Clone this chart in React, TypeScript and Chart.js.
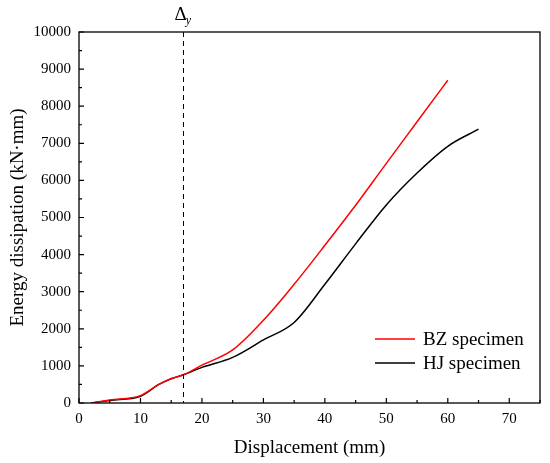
import { useEffect, useRef } from 'react';
import { Chart, registerables } from 'chart.js';

Chart.register(...registerables);

const bzDisp = [2, 5, 10, 13, 15, 17, 20, 25, 30, 35, 40, 45, 50, 55, 60];
const bzEnergy = [0, 80, 200, 500, 660, 760, 1020, 1430, 2230, 3200, 4250, 5330, 6460, 7580, 8700];

const hjDisp = [2, 5, 10, 13, 15, 17, 20, 25, 30, 35, 40, 45, 50, 55, 60, 65];
const hjEnergy = [0, 70, 180, 500, 650, 760, 960, 1230, 1700, 2170, 3200, 4290, 5340, 6200, 6920, 7380];

const xTickVals = [0, 10, 20, 30, 40, 50, 60, 70];
const yieldDisp = 17;

const FONT = '"Liberation Serif", "Times New Roman", serif';

const framePlugin = {
    id: 'frame',
    afterDraw(chart: any) {
        const { ctx, chartArea: a, scales } = chart;
        const xs = scales.x;
        const ys = scales.y;
        ctx.save();
        ctx.strokeStyle = '#000';
        ctx.lineWidth = 1.3;
        ctx.strokeRect(a.left, a.top, a.right - a.left, a.bottom - a.top);

        // inward ticks, major + minor
        ctx.lineWidth = 1.2;
        ctx.beginPath();
        for (let v = 0; v <= 75; v += 5) {
            const px = xs.getPixelForValue(v);
            const len = v % 10 === 0 ? 5 : 3;
            ctx.moveTo(px, a.bottom);
            ctx.lineTo(px, a.bottom - len);
        }
        for (let v = 0; v <= 10000; v += 500) {
            const py = ys.getPixelForValue(v);
            const len = v % 1000 === 0 ? 5 : 3;
            ctx.moveTo(a.left, py);
            ctx.lineTo(a.left + len, py);
        }
        ctx.stroke();

        // yield displacement line
        const dx = xs.getPixelForValue(yieldDisp);
        ctx.lineWidth = 1;
        ctx.setLineDash([5, 4]);
        ctx.beginPath();
        ctx.moveTo(dx, a.top);
        ctx.lineTo(dx, a.bottom);
        ctx.stroke();
        ctx.setLineDash([]);

        ctx.fillStyle = '#000';
        ctx.textBaseline = 'middle';
        ctx.textAlign = 'center';
        ctx.font = '19px ' + FONT;
        ctx.fillText('Δ', dx - 3, 15);
        ctx.font = 'italic 12px ' + FONT;
        ctx.fillText('y', dx + 5, 21);

        // legend
        ctx.textAlign = 'left';
        ctx.font = '19px ' + FONT;
        chart.data.datasets.forEach((ds: any, i: number) => {
            const y = a.bottom - 64 + i * 24;
            ctx.strokeStyle = ds.borderColor;
            ctx.lineWidth = 1.5;
            ctx.beginPath();
            ctx.moveTo(a.right - 165, y);
            ctx.lineTo(a.right - 125, y);
            ctx.stroke();
            ctx.fillText(ds.label, a.right - 117, y + 1);
        });
        ctx.restore();
    }
};

const EnergyChart = () => {
    const chartRef = useRef<HTMLCanvasElement>(null);

    useEffect(() => {
        const ctx = chartRef.current!.getContext('2d')!;
        const chart = new Chart(ctx, {
            type: 'line',
            data: {
                datasets: [
                    {
                        label: 'BZ specimen',
                        data: bzDisp.map((d, i) => ({ x: d, y: bzEnergy[i] })),
                        borderColor: '#ff0000',
                        borderWidth: 1.5,
                        pointRadius: 0,
                        cubicInterpolationMode: 'monotone',
                        fill: false
                    },
                    {
                        label: 'HJ specimen',
                        data: hjDisp.map((d, i) => ({ x: d, y: hjEnergy[i] })),
                        borderColor: '#000000',
                        borderWidth: 1.5,
                        pointRadius: 0,
                        cubicInterpolationMode: 'monotone',
                        fill: false
                    }
                ]
            },
            options: {
                responsive: true,
                maintainAspectRatio: false,
                animation: false,
                layout: { padding: { left: 0, top: 32, right: 10, bottom: 0 } },
                plugins: {
                    legend: { display: false },
                    tooltip: { enabled: false }
                },
                scales: {
                    x: {
                        type: 'linear',
                        min: 0,
                        max: 75,
                        afterBuildTicks: (scale: any) => {
                            scale.ticks = xTickVals.map(v => ({ value: v }));
                        },
                        afterFit: (scale: any) => {
                            scale.height = 60;
                        },
                        grid: { display: false, drawTicks: false },
                        border: { display: false },
                        ticks: {
                            color: '#000',
                            padding: 7,
                            maxRotation: 0,
                            callback: (v: any) => String(v),
                            font: { family: FONT, size: 15 }
                        },
                        title: {
                            display: true,
                            text: 'Displacement (mm)',
                            color: '#000',
                            padding: { top: 0, bottom: 4 },
                            font: { family: FONT, size: 19 }
                        }
                    },
                    y: {
                        type: 'linear',
                        min: 0,
                        max: 10000,
                        afterFit: (scale: any) => {
                            scale.width = 79;
                        },
                        grid: { display: false, drawTicks: false },
                        border: { display: false },
                        ticks: {
                            stepSize: 1000,
                            color: '#000',
                            padding: 8,
                            callback: (v: any) => String(v),
                            font: { family: FONT, size: 15 }
                        },
                        title: {
                            display: true,
                            text: 'Energy dissipation (kN·mm)',
                            color: '#000',
                            padding: { top: 7, bottom: 0 },
                            font: { family: FONT, size: 19 }
                        }
                    }
                }
            },
            plugins: [framePlugin]
        });

        return () => {
            chart.destroy();
        };
    }, []);

    return (
        <div style={{ position: 'fixed', left: 0, top: 0, width: 550, height: 463, background: '#fff' }}>
            <canvas ref={chartRef}></canvas>
        </div>
    );
};

export default EnergyChart;
